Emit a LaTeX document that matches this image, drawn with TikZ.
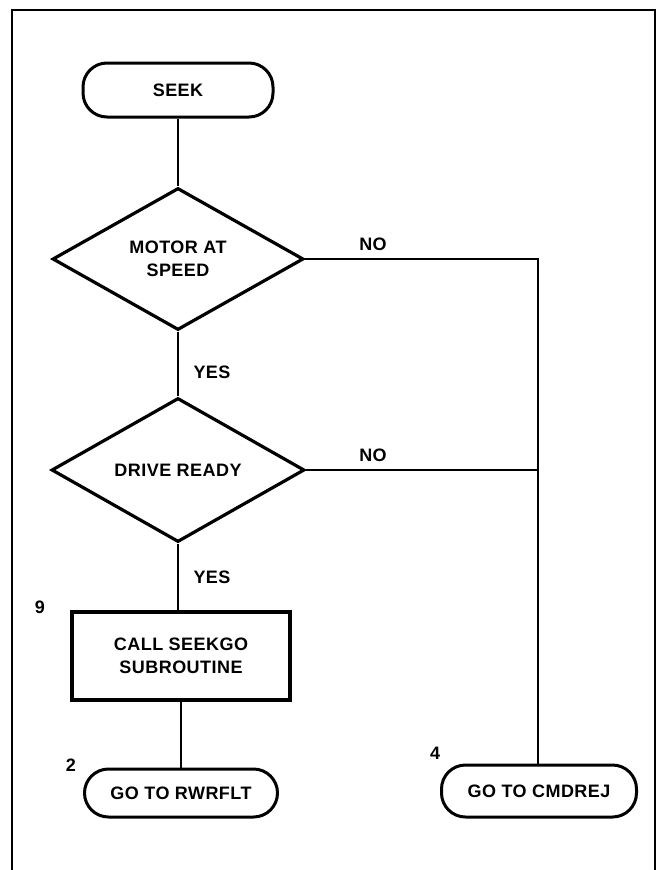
\documentclass[tikz,border=0pt]{standalone}
\usepackage{fontspec}
\setmainfont{Liberation Sans}
\newfontfamily\labfont[LetterSpace=2.5]{Liberation Sans}
\usetikzlibrary{shapes.geometric}
\begin{document}
\begin{tikzpicture}[x=1pt,y=-1pt,
  every node/.style={font=\labfont\fontsize{18}{23}\selectfont\bfseries, align=center},
  term/.style={draw, line width=3pt, rectangle, rounded corners=24pt, inner sep=0pt},
  decide/.style={draw, line width=3.2pt, diamond, inner sep=0pt},
  procbox/.style={draw, line width=3.2pt, rectangle, inner sep=0pt},
  conn/.style={line width=1.6pt},
  lbl/.style={inner sep=0pt}]
\useasboundingbox (0,0) rectangle (657,870);
% frame
\draw[line width=1.6pt] (12,870) -- (12,10) -- (655,10) -- (655,870);
% nodes
\node[term, minimum width=190pt, minimum height=54pt] (seek) at (178,90) {SEEK};
\node[decide, minimum width=251pt, minimum height=142pt] (d1) at (178,259) {MOTOR AT\\SPEED};
\node[decide, minimum width=253pt, minimum height=144pt] (d2) at (178,470) {DRIVE READY};
\node[procbox, minimum width=218pt, minimum height=88pt] (box) at (181,656) {CALL SEEKGO\\SUBROUTINE};
\node[term, minimum width=193pt, minimum height=48pt] (rw) at (181,793) {GO TO RWRFLT};
\node[term, minimum width=195pt, minimum height=52pt] (cm) at (539,791) {GO TO CMDREJ};
\coordinate (j1) at (538,259);
\coordinate (j2) at (538,470);
% connectors
\draw[conn] (seek.south) -- (d1.north);
\draw[conn] (d1.south) -- (d2.north);
\draw[conn] (d2.south) -- (d2.south |- box.north);
\draw[conn] (box.south) -- (rw.north);
\draw[conn] (d1.east) -- (j1) -- (j1 |- cm.north);
\draw[conn] (d2.east) -- (j2);
% labels
\node[lbl] (no1) at (373,244) {NO};
\node[lbl] (no2) at (373,455) {NO};
\node[lbl] (yes1) at (212,372) {YES};
\node[lbl] (yes2) at (212,577) {YES};
\node[lbl] (n9) at (40,607) {9};
\node[lbl] (n2) at (71,765) {2};
\node[lbl] (n4) at (435,753) {4};
\end{tikzpicture}
\end{document}
